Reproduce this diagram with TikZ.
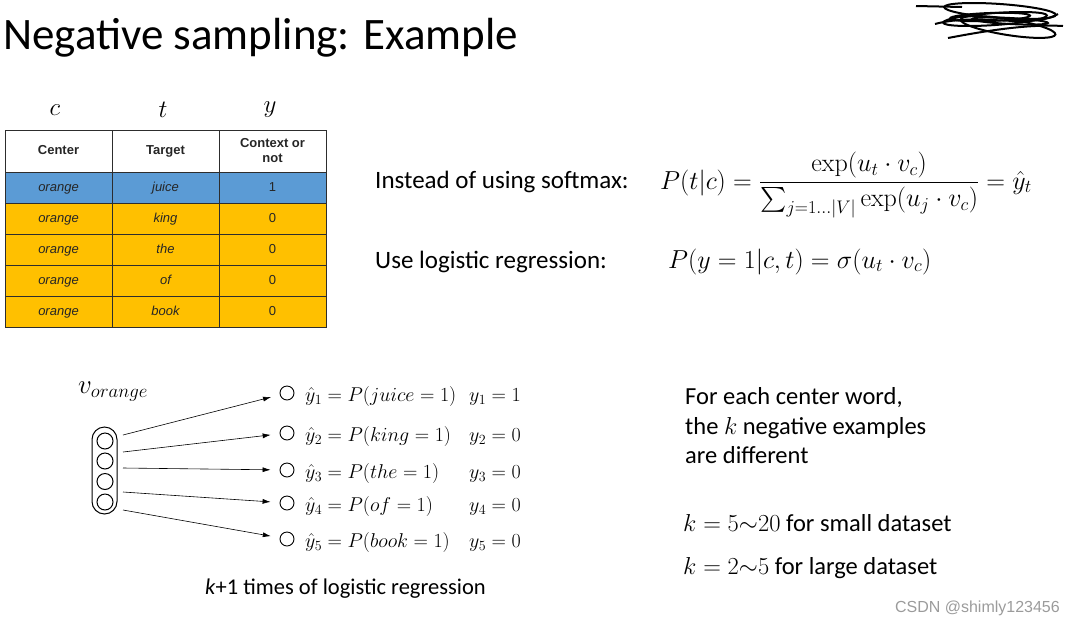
\documentclass[tikz,border=0pt]{standalone}
\usepackage{amsmath}
\usepackage{fix-cm}
\usepackage[no-math]{fontspec}
\setmainfont{Carlito}
\newfontfamily\tablefont{Liberation Sans}
\usetikzlibrary{arrows.meta,positioning,shapes.geometric}
\definecolor{slideblue}{RGB}{91,155,213}
\definecolor{slideorange}{RGB}{255,192,0}
\definecolor{cellline}{RGB}{45,45,45}
\definecolor{markgray}{RGB}{155,155,155}

\begin{document}
\begin{tikzpicture}[x=1pt,y=-1pt,
  cell/.style={draw=cellline, line width=1pt, minimum width=107pt, minimum height=31pt,
               inner sep=0pt, text height=9.5pt, text depth=2.5pt, text=black!85,
               font=\tablefont\fontsize{13}{15}\selectfont},
  unit/.style={circle, draw, line width=1pt, minimum size=16pt, inner sep=0pt},
  outunit/.style={circle, draw, line width=0.9pt, minimum size=14pt, inner sep=0pt},
  eqn/.style={inner sep=0pt, font=\fontsize{20}{24}\selectfont},
  body/.style={anchor=base west, inner sep=0pt, font=\fontsize{24.5}{28}\selectfont},
  link/.style={-{Latex[length=8pt,width=5pt]}, line width=0.6pt, shorten >=9pt}]
  \useasboundingbox (0,0) rectangle (1074,625);
  % title
  \node[anchor=base west, inner sep=0pt, font=\fontsize{45}{50}\selectfont] (title) at (3,49)
    {Negative sampling: Example};
  % scribble over the logo
  \begin{scope}[line width=2pt]
    \draw (1000,11) ellipse [x radius=56, y radius=7, rotate=-4];
    \draw (995,19) ellipse [x radius=52, y radius=6, rotate=4];
    \draw (1008,27) ellipse [x radius=48, y radius=8, rotate=-9];
    \draw (990,17) ellipse [x radius=40, y radius=4, rotate=2];
    \draw (1010,21) ellipse [x radius=38, y radius=3, rotate=-3];
    \draw (916,6) -- (962,7);
    \draw (948,38) .. controls (990,30) and (1030,24) .. (1063,26);
    \draw (935,24) .. controls (980,12) and (1030,30) .. (1058,14);
  \end{scope}
  % table: c, t, y
  \node[font=\fontsize{25}{28}\selectfont] (hc) at (55,110) {$c$};
  \node[font=\fontsize{25}{28}\selectfont] (ht) at (163,110) {$t$};
  \node[font=\fontsize{25}{28}\selectfont] (hy) at (270,110) {$y$};
  \node[cell, minimum height=42pt, font=\tablefont\bfseries\fontsize{13}{15}\selectfont] (h1) at (58.5,151) {Center};
  \node[cell, minimum height=42pt, font=\tablefont\bfseries\fontsize{13}{15}\selectfont] (h2) at (165.5,151) {Target};
  \node[cell, minimum height=42pt, align=center, text height=, text depth=,
        font=\tablefont\bfseries\fontsize{13}{15}\selectfont] (h3) at (272.5,151) {Context or\\not};
  \foreach \row/\word/\lab/\cy/\fc in {1/juice/1/187.5/slideblue, 2/king/0/218.5/slideorange,
      3/the/0/249.5/slideorange, 4/of/0/280.5/slideorange, 5/book/0/311.5/slideorange} {
    \node[cell, fill=\fc] (c\row) at (58.5,\cy) {\itshape orange};
    \node[cell, fill=\fc] (t\row) at (165.5,\cy) {\itshape \word};
    \node[cell, fill=\fc] (y\row) at (272.5,\cy) {\lab};
  }
  % softmax vs logistic regression
  \node[body, font=\fontsize{25}{28}\selectfont] (soft) at (375,188) {Instead of using softmax:};
  \node[body, font=\fontsize{26}{30}\selectfont] (soft eq) at (660,189)
    {$P(t|c) = \dfrac{\exp(u_t\cdot v_c)}{\sum_{j=1\ldots|V|}\exp(u_j\cdot v_c)} = \hat{y}_t$};
  \node[body, font=\fontsize{25}{28}\selectfont] (logi) at (375,268) {Use logistic regression:};
  \node[body, font=\fontsize{26}{30}\selectfont] (logi eq) at (668,268)
    {$P(y = 1|c,t) = \sigma(u_t\cdot v_c)$};
  % input vector
  \node[font=\fontsize{27}{30}\selectfont, anchor=base west, inner sep=0pt] (vlab) at (78,393) {$v_{orange}$};
  \node[draw, line width=1pt, rounded corners=12.5pt, minimum width=25pt, minimum height=87pt,
        inner sep=0pt] (vec) at (104.5,470.5) {};
  \foreach \i/\uy in {1/441,2/461,3/481.5,4/502} {
    \node[unit] (u\i) at (105,\uy) {};
  }
  % outputs
  \foreach \i/\oy/\sy/\word/\lab in {1/393/435/juice/1, 2/433/452/king/0, 3/470/468/the/0,
      4/503/492/of/0, 5/539/510/book/0} {
    \node[outunit] (o\i) at (287,\oy) {};
    \coordinate (s\i) at (123,\sy);
    \draw[link] (s\i) -- (o\i);
    \node[eqn, anchor=base west] (p\i) at (305,\oy+8) {$\hat{y}_{\i} = P(\word = 1)$};
    \node[eqn, anchor=base east] (q\i) at (521,\oy+8) {$y_{\i} = \lab$};
  }
  \node[body, font=\fontsize{22.5}{26}\selectfont] (times) at (205,594) {\textit{k}+1 times of logistic regression};
  % right notes
  \node[body] (note1) at (685,404) {For each center word,};
  \node[body] (note2) at (685,434) {the $k$ negative examples};
  \node[body] (note3) at (685,463) {are different};
  \node[body] (small) at (683,531) {$k = 5{\sim}20$ for small dataset};
  \node[body] (large) at (683,574) {$k = 2{\sim}5$ for large dataset};
  % watermark
  \node[anchor=base east, inner sep=0pt, text=markgray, font=\tablefont\fontsize{16}{18}\selectfont]
    (mark) at (1060,612) {CSDN @shimly123456};
\end{tikzpicture}
\end{document}
